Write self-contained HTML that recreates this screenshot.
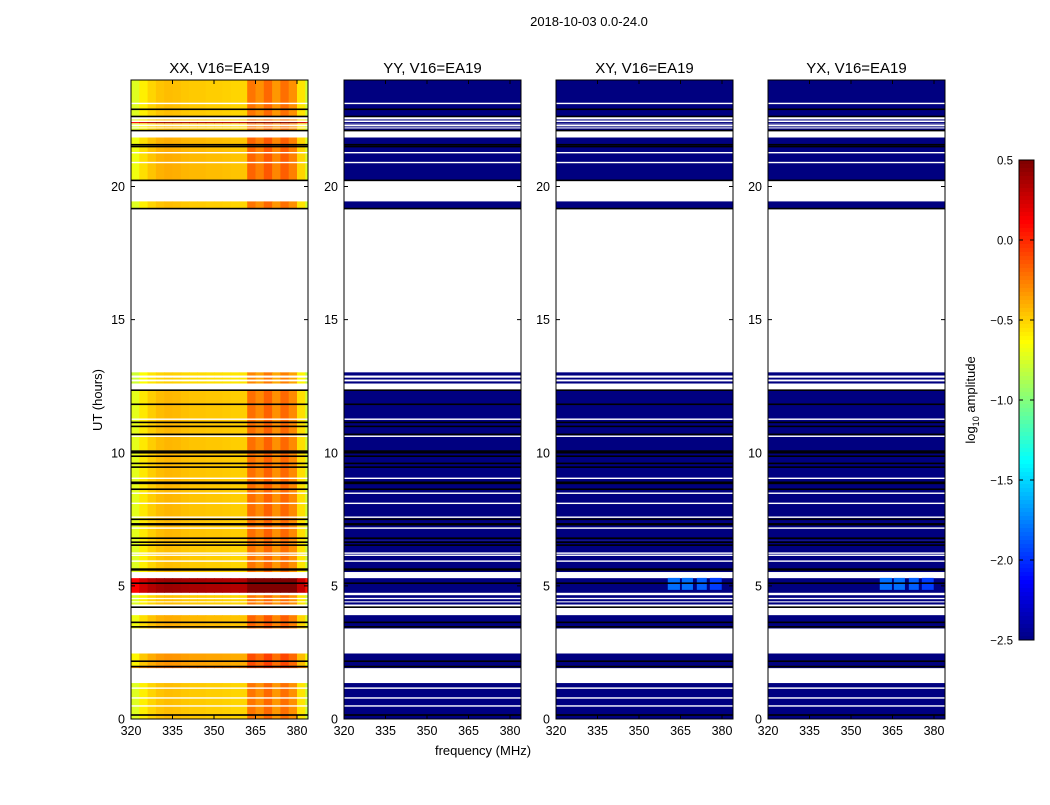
<!DOCTYPE html>
<html><head><meta charset="utf-8"><style>
body{margin:0;background:#fff;font-family:"Liberation Sans",sans-serif}
svg text{font-family:"Liberation Sans",sans-serif}
</style></head><body>
<svg id="fig" width="1050" height="800" viewBox="0 0 1050 800" xmlns="http://www.w3.org/2000/svg">
<rect width="1050" height="800" fill="#fff"/>
<text x="589" y="26" font-size="13" text-anchor="middle">2018-10-03 0.0-24.0</text>
<text x="0" y="0" font-size="13" text-anchor="middle" transform="translate(102,400) rotate(-90)">UT (hours)</text>
<text x="483" y="755" font-size="13" text-anchor="middle">frequency (MHz)</text>
<g id="panels"></g>
<g id="cbar"></g>
</svg>
<script>
const panelTitles=["XX, V16=EA19","YY, V16=EA19","XY, V16=EA19","YX, V16=EA19"];
const panelLefts=[131,344,556,768];
const xTicks=[320,335,350,365,380];
const yTicks=[0,5,10,15,20];
// XX log10 amplitude profile per 3 MHz bin starting 320 MHz
const freqBins=[320,323,326,329,332,335,338,341,344,347,350,353,356,359,362,365,368,371,374,377,380,383];
const xxProfile=[-0.72,-0.58,-0.5,-0.45,-0.43,-0.44,-0.46,-0.47,-0.47,-0.48,-0.48,-0.49,-0.5,-0.5,-0.22,-0.3,-0.18,-0.32,-0.2,-0.3,-0.55,-0.78];
// data segments [startHour, endHour, level offset]
const segments=[[22.63,24,0],[22.48,22.52,0],[22.33,22.37,0],[22.38,22.42,0.85],[22.22,22.26,0],[22.1,22.18,0],[20.23,21.84,0.05],[19.17,19.44,0],
[12.9,13.02,-0.05],[12.75,12.82,-0.05],[12.6,12.68,-0.05],[6.7,12.35,0.02],[5.52,6.7,0],[4.74,5.29,0.85],[4.55,4.65,0],[4.42,4.5,0],[4.3,4.38,0],
[3.4,3.9,0.05],[1.91,2.46,0.12],[1.93,1.98,0.85],[0,1.35,0]];
const whiteLines=[23.12,21.27,20.9,11.26,10.62,9.04,8.48,8.1,7.58,7.17,6.23,6.15,5.93,1.16,0.79,0.49];
const blackLines=[22.9,22.63,22.1,21.57,21.5,20.23,19.17,12.35,11.82,11.14,10.99,10.69,10.06,10.0,9.87,9.6,9.46,8.89,8.85,8.63,7.5,7.33,7.3,6.79,6.64,6.53,5.63,5.6,5.1,4.2,3.63,3.46,2.17,1.97,0.15];
// cross-hand bright blobs [fStart,fEnd,hStart,hEnd,value]
const blobs=[[360.4,364.8,4.85,5.3,-1.8],[365.5,369.5,4.85,5.3,-1.8],[370.9,374.5,4.85,5.3,-1.85],[375.6,379.9,4.85,5.3,-1.95]];
const cbarTicks=[0.5,0.0,-0.5,-1.0,-1.5,-2.0,-2.5];

const NS="http://www.w3.org/2000/svg";
const top0=80,bot0=719,pw=177;
const yS=h=>bot0-(h/24)*(bot0-top0);
const xS=(left,f)=>left+(f-320)*(166/60);
function jet(v){let t=(v+2.5)/3;t=Math.max(0,Math.min(1,t));
 const c=x=>Math.round(255*Math.max(0,Math.min(1,x)));
 const r=c(1.5-Math.abs(4*t-3)),g=c(1.5-Math.abs(4*t-2)),b=c(1.5-Math.abs(4*t-1));
 return `rgb(${r},${g},${b})`;}
function el(tag,attrs,parent){const e=document.createElementNS(NS,tag);for(const k in attrs)e.setAttribute(k,attrs[k]);parent.appendChild(e);return e;}
const P=document.getElementById('panels');
panelLefts.forEach((L,pi)=>{
 const g=el('g',{},P);
 
 
 const clip=el('clipPath',{id:'c'+pi},g);el('rect',{x:L,y:top0,width:pw,height:bot0-top0},clip);
 const d=el('g',{'clip-path':`url(#c${pi})`},g);
 segments.forEach(s=>{
  const y1=yS(s[1]),y2=yS(s[0]);
  if(pi===0){
   freqBins.forEach((f,i)=>{
    const r=el('rect',{x:xS(L,f),y:y1,width:166/20+0.6,height:y2-y1,fill:jet(xxProfile[i]+s[2])},d);
    
    
   });
  } else {
   const r=el('rect',{x:L,y:y1,width:pw,height:y2-y1,fill:jet(-2.5)},d);
   
   
  }
 });
 if(pi>=2){blobs.forEach(b=>{
  const r=el('rect',{x:xS(L,b[0]),y:yS(b[3]),width:xS(L,b[1])-xS(L,b[0]),height:yS(b[2])-yS(b[3]),fill:jet(b[4])},d);
  
  
 });}
 whiteLines.forEach(h=>{el('rect',{x:L,y:yS(h)-0.7,width:pw,height:1.4,fill:'#fff'},d);});
 blackLines.forEach(h=>{el('rect',{x:L,y:yS(h)-0.8,width:pw,height:1.6,fill:'#000'},d);});
 el('rect',{x:L,y:top0,width:pw,height:bot0-top0,fill:'none',stroke:'#000','stroke-width':1},g);
 const t=el('text',{x:L+pw/2,y:73,'font-size':15,'text-anchor':'middle'},g);t.textContent=panelTitles[pi];
 
 
 xTicks.forEach(f=>{const x=xS(L,f);el('line',{x1:x,x2:x,y1:bot0,y2:bot0-4,stroke:'#000'},g);el('line',{x1:x,x2:x,y1:top0,y2:top0+4,stroke:'#000'},g);
  const tx=el('text',{x:x,y:bot0+16,'font-size':12.5,'text-anchor':'middle'},g);tx.textContent=f;
  
  });
 yTicks.forEach(h=>{const y=yS(h);el('line',{x1:L,x2:L+4,y1:y,y2:y,stroke:'#000'},g);el('line',{x1:L+pw,x2:L+pw-4,y1:y,y2:y,stroke:'#000'},g);
  const ty=el('text',{x:L-6,y:y+4.5,'font-size':12.5,'text-anchor':'end'},g);ty.textContent=h;
  
  });
});
// colorbar
const C=document.getElementById('cbar');
const cx=1019,cw=15,ct=160,cb=640;
for(let i=0;i<120;i++){const v=0.5-3*(i/120);el('rect',{x:cx,y:ct+i*4,width:cw,height:4.3,fill:jet(v)},C);}
el('rect',{x:cx,y:ct,width:cw,height:cb-ct,fill:'none',stroke:'#000'},C);
cbarTicks.forEach(v=>{const y=ct+(0.5-v)/3*(cb-ct);el('line',{x1:cx,x2:cx+4,y1:y,y2:y,stroke:'#000'},C);el('line',{x1:cx+cw,x2:cx+cw-4,y1:y,y2:y,stroke:'#000'},C);
 const t=el('text',{x:1013,y:y+4.5,'font-size':11.5,'text-anchor':'end'},C);t.textContent=(v<0?'\u2212':'')+Math.abs(v).toFixed(1);
 
 });
const cl=el('text',{'font-size':13,'text-anchor':'middle',transform:'translate(975,400) rotate(-90)'},C);
cl.innerHTML='log<tspan font-size="9" dy="4">10</tspan><tspan dy="-4"> amplitude</tspan>';




</script>
</body></html>
